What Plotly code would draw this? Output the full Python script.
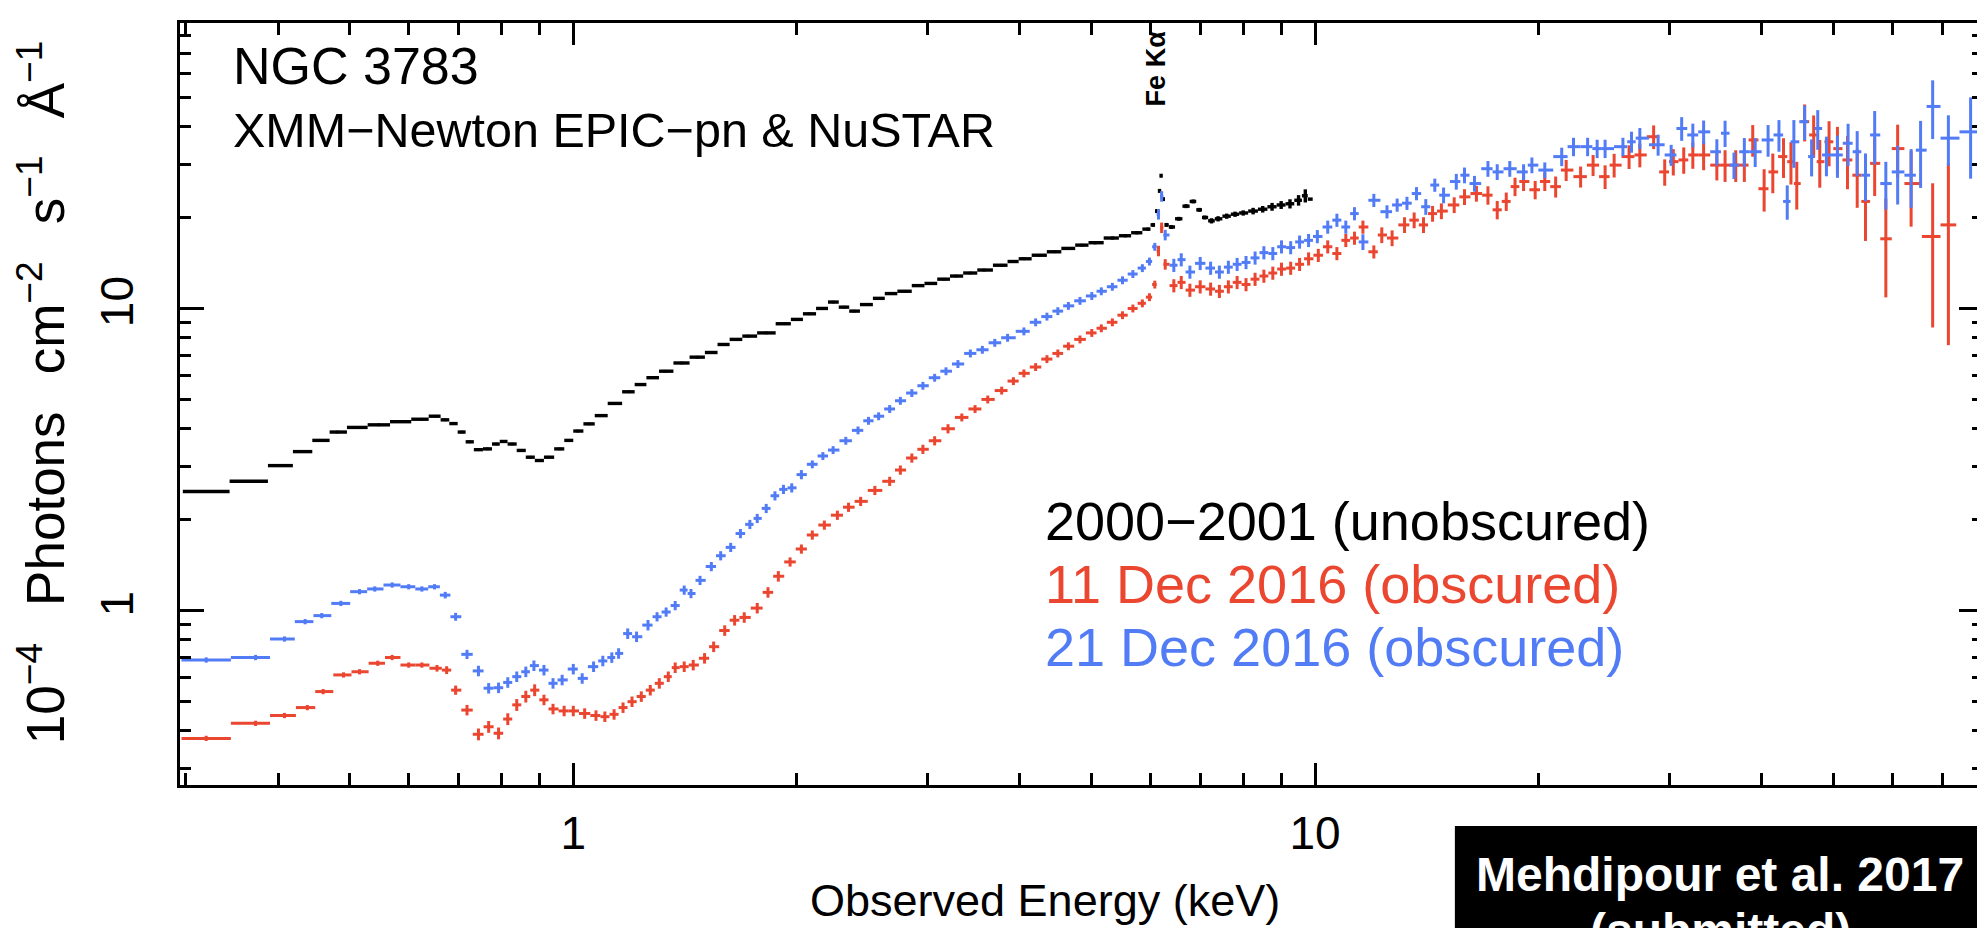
import math
import plotly.graph_objects as go

# ---------------- data ----------------
# 2000-2001 (unobscured), XMM-Newton EPIC-pn
black_E = [0.32, 0.37, 0.406, 0.432, 0.458, 0.481, 0.51, 0.547, 0.586, 0.624, 0.653,
           0.672, 0.689, 0.708, 0.724, 0.745, 0.766, 0.788, 0.804, 0.827, 0.851, 0.875,
           0.900, 0.926, 0.959, 0.986, 1.014, 1.05, 1.088, 1.138, 1.19, 1.23, 1.28, 1.33,
           1.40, 1.47, 1.54, 1.59, 1.66, 1.72, 1.82, 1.93, 2.00, 2.08, 2.17, 2.24, 2.32,
           2.39, 2.48, 2.59, 2.67, 2.80, 2.92, 3.03, 3.16, 3.28, 3.43, 3.58, 3.78, 3.92,
           4.05, 4.25, 4.45, 4.65, 4.85, 5.05, 5.33, 5.55, 5.75, 5.95, 6.05, 6.12, 6.17,
           6.20, 6.24, 6.30, 6.40, 6.55, 6.70, 6.85, 6.98, 7.10, 7.25, 7.40, 7.60, 7.80,
           8.00, 8.25, 8.50, 8.75, 9.00, 9.25, 9.50, 9.70, 9.85]
black_F = [2.48, 2.68, 3.02, 3.36, 3.66, 3.90, 4.04, 4.12, 4.22, 4.30, 4.40,
           4.28, 4.16, 3.90, 3.62, 3.41, 3.43, 3.56, 3.63, 3.56, 3.39, 3.22,
           3.14, 3.22, 3.43, 3.66, 3.93, 4.15, 4.42, 4.85, 5.3, 5.6, 5.9, 6.2,
           6.6, 6.9, 7.15, 7.6, 7.9, 8.1, 8.3, 8.9, 9.2, 9.6, 10.0, 10.5, 10.1,
           9.8, 10.3, 10.8, 11.2, 11.4, 11.9, 12.1, 12.5, 12.8, 13.1, 13.4, 13.9, 14.3,
           14.6, 15.0, 15.4, 15.8, 16.2, 16.5, 17.1, 17.4, 17.8, 18.3, 18.9, 21.0, 24.5,
           27.5, 23.0, 18.9, 18.6, 19.8, 21.8, 22.6, 21.2, 20.0, 19.5, 19.8, 20.2, 20.5,
           20.7, 21.0, 21.3, 21.7, 22.0, 22.2, 22.8, 23.6, 23.0]
black_err = [0.01] * 65 + [0.012] * 5 + [0.015] * 12 + [0.02] * 5 + [0.025] * 2 + \
            [0.03] * 2 + [0.035, 0.04, 0.05]

# 11 Dec 2016 (obscured), XMM-Newton + NuSTAR
red_E = [0.32, 0.373, 0.408, 0.438, 0.46, 0.49, 0.515, 0.545, 0.57, 0.60, 0.625, 0.655,
         0.675, 0.694, 0.719, 0.745, 0.769, 0.793, 0.816, 0.839, 0.863, 0.887, 0.913,
         0.939, 0.972, 1.0, 1.036, 1.073, 1.103, 1.135, 1.167, 1.20, 1.235, 1.27, 1.306,
         1.343, 1.372, 1.411, 1.451, 1.503, 1.546, 1.60, 1.65, 1.70, 1.77, 1.83, 1.89,
         1.96, 2.03, 2.10, 2.18, 2.27, 2.35, 2.44, 2.55, 2.67, 2.76, 2.86, 2.96, 3.07,
         3.20, 3.34, 3.48, 3.62, 3.78, 3.92, 4.05, 4.20, 4.35, 4.50, 4.65, 4.82, 5.0,
         5.15, 5.33, 5.50, 5.68, 5.85, 5.98, 6.08, 6.15, 6.21, 6.28,
         6.45, 6.60, 6.78, 7.0, 7.23, 7.43, 7.64, 7.85, 8.07, 8.30, 8.53, 8.77, 9.01,
         9.27, 9.53, 9.80, 10.1, 10.4, 10.7, 11.0, 11.3, 11.6, 12.0, 12.3, 12.7, 13.2,
         13.6, 14.0, 14.4, 14.8, 15.4, 15.9, 16.5, 17.1, 17.6, 18.1, 18.6, 19.1, 19.8,
         20.4, 21.1, 21.8, 22.8, 23.7, 24.6, 25.3, 26.5, 27.4, 28.6, 29.6, 30.4, 31.4,
         32.3, 33.4, 34.8, 35.7, 36.9, 37.9, 38.9, 40.3, 41.4, 42.8, 43.8, 44.6, 45.7,
         47.0, 47.9, 49.3, 50.6, 52.2, 53.8, 55.2, 56.8, 58.8, 61.0, 63.6, 68.0, 71.4]
red_F = [0.378, 0.424, 0.45, 0.478, 0.54, 0.613, 0.628, 0.67, 0.70, 0.661, 0.661, 0.645,
         0.636, 0.546, 0.469, 0.39, 0.413, 0.393, 0.438, 0.488, 0.52, 0.546, 0.507,
         0.473, 0.466, 0.466, 0.457, 0.45, 0.446, 0.454, 0.478, 0.50, 0.52, 0.546, 0.575,
         0.605, 0.648, 0.653, 0.661, 0.696, 0.76, 0.86, 0.93, 0.95, 1.02, 1.15, 1.30,
         1.45, 1.60, 1.78, 1.92, 2.07, 2.20, 2.30, 2.50, 2.68, 2.92, 3.2, 3.42, 3.65,
         4.0, 4.36, 4.65, 5.0, 5.35, 5.75, 6.1, 6.4, 6.8, 7.1, 7.5, 7.9, 8.3,
         8.6, 9.0, 9.5, 10.0, 10.4, 10.9, 12.0, 15.5, 18.5, 14.0,
         11.9, 12.2, 11.5, 11.8, 11.6, 11.4, 11.8, 12.2, 12.0, 12.5, 12.8, 13.1, 13.5,
         13.6, 14.0, 14.6, 15.0, 16.0, 15.2, 16.8, 17.1, 18.6, 15.4, 17.5, 17.1, 18.9,
         19.6, 18.9, 20.6, 21.0, 22.0, 23.4, 24.0, 23.7, 21.2, 22.6, 25.3, 26.3, 24.7,
         26.3, 25.3, 28.7, 27.3, 29.8, 27.3, 29.8, 31.8, 32.2, 37.0, 28.3, 30.6, 31.0,
         32.2, 32.2, 29.8, 29.8, 29.8, 29.8, 36.1, 24.9, 28.3, 31.8, 30.6, 25.9, 41.5,
         37.5, 30.6, 35.6, 33.8, 31.0, 27.6, 22.6, 30.2, 17.0, 33.8, 25.9, 17.3, 18.9]
red_err = [0.02] * 11 + [0.025, 0.03, 0.035, 0.04] + [0.045] * 7 + [0.04] * 25 + \
          [0.035] * 14 + [0.03] * 19 + [0.04] * 3 + [0.05] * 23 + [0.06] * 10 + \
          [0.07] * 7 + [0.08] * 4 + [0.09] * 5 + [0.1] * 4 + [0.11] * 2 + [0.12] * 4 + \
          [0.16, 0.15, 0.15, 0.16, 0.18, 0.14, 0.16, 0.18, 0.17, 0.18, 0.2, 0.22, 0.26,
           0.22, 0.36, 0.2, 0.28, 0.5, 0.6]

# 21 Dec 2016 (obscured), XMM-Newton + NuSTAR
blue_E = [0.32, 0.373, 0.408, 0.435, 0.458, 0.486, 0.515, 0.54, 0.57, 0.60, 0.625, 0.65,
          0.672, 0.694, 0.719, 0.745, 0.769, 0.793, 0.816, 0.839, 0.863, 0.885, 0.913,
          0.939, 0.966, 1.0, 1.028, 1.065, 1.096, 1.127, 1.151, 1.184, 1.217, 1.261,
          1.297, 1.334, 1.372, 1.411, 1.441, 1.482, 1.535, 1.58, 1.63, 1.68, 1.73, 1.77,
          1.82, 1.87, 1.92, 1.97, 2.03, 2.10, 2.17, 2.24, 2.33, 2.42, 2.50, 2.58, 2.67,
          2.76, 2.86, 2.96, 3.07, 3.18, 3.30, 3.43, 3.56, 3.70, 3.85, 4.05, 4.20, 4.35,
          4.50, 4.65, 4.82, 5.0, 5.15, 5.33, 5.50, 5.68, 5.85, 5.98, 6.08, 6.15, 6.21, 6.28,
          6.45, 6.60, 6.78, 7.0, 7.23, 7.43, 7.64, 7.85, 8.07, 8.30, 8.53, 8.77, 9.01,
          9.27, 9.53, 9.80, 10.07, 10.4, 10.7, 11.0, 11.3, 11.6, 12.0, 12.5, 12.9, 13.3,
          13.7, 14.1, 14.5, 14.9, 15.5, 15.9, 16.4, 17.1, 17.6, 18.3, 19.1, 19.6, 20.4,
          21.5, 22.3, 23.3, 24.0, 24.6, 26.0, 26.7, 27.4, 29.0, 30.2, 31.2, 32.3, 33.4,
          34.8, 35.7, 36.7, 37.9, 39.2, 40.8, 42.2, 43.3, 44.2, 45.7, 46.7, 47.6, 48.9,
          50.6, 52.3, 53.8, 55.2, 56.8, 58.8, 61.0, 63.6, 65.5, 68.0, 71.4, 76.5]
blue_F = [0.687, 0.70, 0.806, 0.92, 0.963, 1.057, 1.156, 1.18, 1.216, 1.20, 1.18, 1.20,
          1.126, 0.955, 0.717, 0.632, 0.554, 0.556, 0.579, 0.605, 0.628, 0.658, 0.636,
          0.575, 0.590, 0.641, 0.597, 0.653, 0.682, 0.70, 0.722, 0.84, 0.82, 0.896,
          0.955, 0.99, 1.04, 1.17, 1.14, 1.26, 1.40, 1.52, 1.62, 1.80, 1.93, 2.02,
          2.18, 2.40, 2.52, 2.55, 2.82, 3.05, 3.25, 3.40, 3.65, 3.95, 4.25, 4.40, 4.65,
          4.95, 5.25, 5.55, 5.90, 6.20, 6.55, 7.10, 7.30, 7.70, 8.00, 8.40, 9.00, 9.40,
          9.80, 10.2, 10.6, 11.0, 11.4, 11.8, 12.4, 13.0, 13.6, 14.3, 16.0, 20.5, 23.5, 17.5,
          13.9, 14.5, 13.2, 14.1, 13.6, 13.2, 13.7, 14.0, 14.2, 14.7, 15.3, 15.2, 16.0,
          15.9, 16.6, 16.8, 17.3, 18.6, 19.6, 18.6, 20.6, 16.6, 22.8, 20.9, 22.0, 22.3,
          24.0, 21.7, 25.6, 23.7, 26.3, 27.6, 25.9, 29.0, 28.3, 29.0, 28.3, 29.8, 28.7,
          31.8, 34.3, 34.3, 33.8, 33.8, 34.3, 35.6, 36.6, 34.8, 32.2, 39.4, 37.5, 38.4,
          33.0, 38.0, 29.8, 33.0, 33.0, 36.1, 37.5, 22.6, 35.6, 41.5, 31.8, 39.4, 32.2,
          32.2, 35.2, 33.0, 27.6, 37.5, 25.9, 28.3, 27.6, 33.4, 46.6, 36.6, 38.4]
blue_err = [0.02] * 12 + [0.025, 0.03, 0.035] + [0.04] * 19 + [0.035] * 17 + \
           [0.03] * 32 + [0.04] * 3 + [0.05] * 21 + [0.06, 0.05, 0.05, 0.05, 0.05, 0.05,
           0.06, 0.05, 0.06, 0.06, 0.06, 0.06, 0.06, 0.06, 0.06, 0.06, 0.06, 0.06] + \
           [0.07] * 6 + [0.08] * 4 + [0.09] * 3 + [0.1] * 3 + [0.11] * 2 + [0.12] * 2 + \
           [0.13, 0.18, 0.13, 0.14, 0.15, 0.15, 0.16, 0.16, 0.17, 0.18, 0.2, 0.18, 0.22,
            0.22, 0.25, 0.22, 0.19, 0.3, 0.76]

x_tick_vals = [1, 10]
x_tick_text = ["1", "10"]
y_tick_vals = [1, 10]
y_tick_text = ["1", "10"]
x_minor = [0.3, 0.4, 0.5, 0.6, 0.7, 0.8, 0.9, 2, 3, 4, 5, 6, 7, 8, 9, 20, 30, 40, 50, 60, 70]
y_minor = [0.3, 0.4, 0.5, 0.6, 0.7, 0.8, 0.9, 2, 3, 4, 5, 6, 7, 8, 9, 20, 30, 40, 50, 60, 70, 80]

legend_labels = ["2000\u22122001 (unobscured)", "11 Dec 2016 (obscured)", "21 Dec 2016 (obscured)"]

# ---------------- styling ----------------
BLACK = "#000000"
RED = "#EA4630"
BLUE = "#527CF6"
FONT = "Liberation Sans, Arial, Helvetica, sans-serif"

W, H = 1985, 928
L, R, T, B = 172, 1978, 15, 777


def px(x):
    return (x - L) / (R - L)


def py(y):
    return 1 - (y - T) / (B - T)


def bins(E):
    lo, hi = [], []
    for i, e in enumerate(E):
        left = math.sqrt(E[i - 1] * e) if i > 0 else e * e / math.sqrt(e * E[i + 1])
        right = math.sqrt(e * E[i + 1]) if i < len(E) - 1 else e * e / math.sqrt(E[i - 1] * e)
        lo.append(e - left)
        hi.append(right - e)
    return lo, hi


fig = go.Figure()
for E, F, err, col, th in [(black_E, black_F, black_err, BLACK, 3.4),
                           (red_E, red_F, red_err, RED, 3.0),
                           (blue_E, blue_F, blue_err, BLUE, 3.0)]:
    lo, hi = bins(E)
    fig.add_trace(go.Scatter(
        x=E, y=F, mode="markers",
        marker=dict(size=2, color=col),
        error_x=dict(type="data", symmetric=False, array=hi, arrayminus=lo,
                     width=0, thickness=th, color=col),
        error_y=dict(type="data", array=[f * e for f, e in zip(F, err)],
                     width=0, thickness=th, color=col),
        showlegend=False, hoverinfo="skip"))

axis_common = dict(type="log", showline=True, linecolor="black", linewidth=3,
                   mirror="ticks", ticks="inside", tickwidth=3, tickcolor="black",
                   showgrid=False, zeroline=False,
                   tickfont=dict(family=FONT, size=46, color="black"))

fig.update_layout(
    width=W, height=H,
    margin=dict(l=L, r=W - R, t=T, b=H - B),
    paper_bgcolor="white", plot_bgcolor="white",
    font=dict(family=FONT, color="black"),
    xaxis=dict(**axis_common, range=[math.log10(0.295), math.log10(79.5)],
               tickvals=x_tick_vals, ticktext=x_tick_text, ticklen=22,
               ticklabelstandoff=6,
               minor=dict(tickvals=x_minor, ticks="inside", ticklen=12, tickwidth=3,
                          tickcolor="black", showgrid=False)),
    yaxis=dict(**axis_common, range=[math.log10(0.265), math.log10(88)],
               tickvals=y_tick_vals, ticktext=y_tick_text, ticklen=24, tickangle=-90,
               ticklabelstandoff=26,
               minor=dict(tickvals=y_minor, ticks="inside", ticklen=11, tickwidth=3,
                          tickcolor="black", showgrid=False)),
)

SP = "\u2002\u2009"
ann = []
ann.append(dict(x=px(223), y=py(58), text="NGC 3783", xanchor="left", yanchor="middle",
                font=dict(size=52, color="black")))
ann.append(dict(x=px(223), y=py(122), text="XMM\u2212Newton EPIC\u2212pn &amp; NuSTAR",
                xanchor="left", yanchor="middle", font=dict(size=48.5, color="black")))
ann.append(dict(x=px(1150), y=py(60), text="<b>Fe K\u03b1</b>", textangle=-90,
                xanchor="center", yanchor="middle", font=dict(size=27, color="black")))
for lab, col, yy in zip(legend_labels, [BLACK, RED, BLUE], [513, 576, 639]):
    ann.append(dict(x=px(1036), y=py(yy), text=lab, xanchor="left", yanchor="middle",
                    font=dict(size=54, color=col)))
ann.append(dict(x=px(1038), y=py(892), text="Observed Energy (keV)", xanchor="center",
                yanchor="middle", font=dict(size=45, color="black")))
ann.append(dict(x=px(33), y=py(384),
                text="10<sup>\u22124</sup>" + SP + "Photons" + SP + "cm<sup>\u22122</sup>" + SP +
                     "s<sup>\u22121</sup>" + SP + "\u00c5<sup>\u22121</sup>",
                textangle=-90, xanchor="center", yanchor="middle",
                font=dict(size=53, color="black")))
ann.append(dict(x=px(1715), y=py(866), text="<b>Mehdipour et al. 2017</b>", xanchor="center",
                yanchor="middle", font=dict(size=48, color="white")))
ann.append(dict(x=px(1715), y=py(922), text="<b>(submitted)</b>", xanchor="center",
                yanchor="middle", font=dict(size=48, color="white")))
for a in ann:
    a.update(xref="paper", yref="paper", showarrow=False)
fig.update_layout(annotations=ann)

fig.add_shape(type="rect", xref="paper", yref="paper", x0=px(1449), x1=px(1995),
              y0=py(818), y1=py(940), fillcolor="black", line=dict(width=0), layer="below")

fig.write_html("out.html")
